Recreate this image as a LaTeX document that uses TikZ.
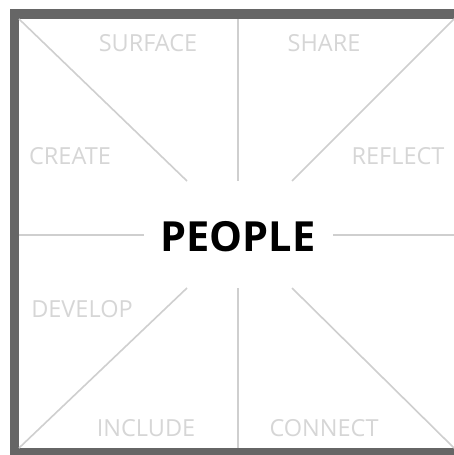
\documentclass[tikz,border=0pt]{standalone}
\usepackage{fontspec}
\setmainfont{Open Sans}
\definecolor{frame}{HTML}{666666}
\definecolor{rule}{HTML}{CFCFCF}
\definecolor{lbl}{HTML}{D6D6D6}
\begin{document}
\begin{tikzpicture}[x=1pt,y=-1pt,
  guide/.style={draw=rule,line width=1.6pt},
  word/.style={text=lbl,font=\fontsize{23.5}{23.5}\selectfont,inner sep=0pt},
  title/.style={text=black,font=\fontsize{41.5}{41.5}\selectfont\bfseries,inner sep=0pt}]
\useasboundingbox (0,0) rectangle (454,455);
\fill[white] (0,0) rectangle (454,455);
% frame
\fill[frame] (10,9) rectangle (454,455);
\fill[white] (19,19) rectangle (454,448);
% coordinates
\coordinate (tl) at (19,19);
\coordinate (tr) at (454,19);
\coordinate (bl) at (19,448);
\coordinate (br) at (454,448);
\coordinate (dtl) at (187,181);
\coordinate (dtr) at (292,181);
\coordinate (dbl) at (187,288);
\coordinate (dbr) at (292,288);
\coordinate (vt) at (238,19);
\coordinate (vte) at (238,181);
\coordinate (vb) at (238,288);
\coordinate (vbe) at (238,448);
\coordinate (hl) at (19,235);
\coordinate (hle) at (144,235);
\coordinate (hr) at (454,235);
\coordinate (hre) at (333,235);
\draw[guide] (tl) -- (dtl);
\draw[guide] (tr) -- (dtr);
\draw[guide] (bl) -- (dbl);
\draw[guide] (br) -- (dbr);
\draw[guide] (vt) -- (vte);
\draw[guide] (vb) -- (vbe);
\draw[guide] (hl) -- (hle);
\draw[guide] (hr) -- (hre);
% labels
\node[title] (people) at (238,237) {PEOPLE};
\node[word] (surface) at (148,43) {SURFACE};
\node[word] (share) at (324,43) {SHARE};
\node[word] (create) at (70,156) {CREATE};
\node[word] (reflect) at (398,156) {REFLECT};
\node[word] (develop) at (82,309) {DEVELOP};
\node[word] (include) at (146,428) {INCLUDE};
\node[word] (connect) at (324,428) {CONNECT};
\end{tikzpicture}
\end{document}
